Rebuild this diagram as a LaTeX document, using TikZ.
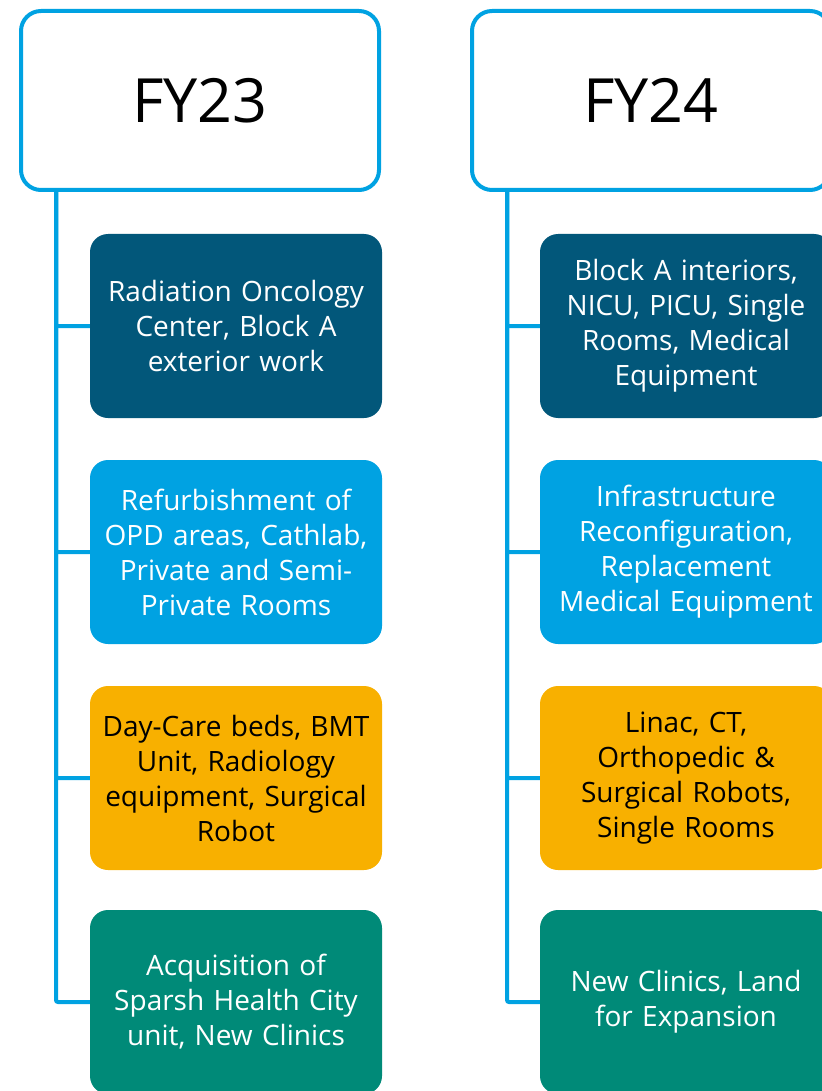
\documentclass[tikz,border=0pt]{standalone}
\usepackage{fontspec}
\setmainfont{Open Sans}
\definecolor{lblue}{HTML}{00A2E2}
\definecolor{dblue}{HTML}{02577A}
\definecolor{orng}{HTML}{F8B000}
\definecolor{teal}{HTML}{008A78}
\begin{document}
\begin{tikzpicture}[x=1pt,y=-1pt,
  hdr/.style={draw=lblue,line width=4pt,fill=white,rounded corners=20pt,minimum width=358pt,minimum height=179pt,font=\fontsize{61}{70}\selectfont,inner sep=0pt},
  item/.style={rounded corners=18pt,minimum width=292pt,minimum height=184pt,text width=288pt,align=center,text=white,inner sep=0pt,font=\fontsize{28}{35}\selectfont},
  itemdark/.style={item,text=black},
  conn/.style={draw=lblue,line width=4pt,rounded corners=2pt}]
\useasboundingbox (0,0) rectangle (821,1091);
\node[hdr] (h23) at (200,100.5) {FY23};
\node[hdr] (h24) at (651,100.5) {FY24};
\coordinate (s23) at (56,190);
\coordinate (s24) at (507,190);
% FY23 items
\node[item,fill=dblue] (a1) at (236,326) {Radiation Oncology\\Center, Block A\\exterior work};
\node[item,fill=lblue] (a2) at (236,552) {Refurbishment of\\OPD areas, Cathlab,\\Private and Semi-\\Private Rooms};
\node[itemdark,fill=orng] (a3) at (236,778) {Day-Care beds, BMT\\Unit, Radiology\\equipment, Surgical\\Robot};
\node[item,fill=teal] (a4) at (236,1002) {Acquisition of\\Sparsh Health City\\unit, New Clinics};
% FY24 items
\node[item,fill=dblue] (b1) at (686,326) {Block A interiors,\\NICU, PICU, Single\\Rooms, Medical\\Equipment};
\node[item,fill=lblue] (b2) at (686,552) {Infrastructure\\Reconfiguration,\\Replacement\\Medical Equipment};
\node[itemdark,fill=orng] (b3) at (686,778) {Linac, CT,\\Orthopedic \&\\Surgical Robots,\\Single Rooms};
\node[item,fill=teal] (b4) at (686,1002) {New Clinics, Land\\for Expansion};
% connectors
\foreach \n in {a1,a2,a3,a4} \draw[conn] (s23) |- (\n.west);
\foreach \n in {b1,b2,b3,b4} \draw[conn] (s24) |- (\n.west);
\end{tikzpicture}
\end{document}
